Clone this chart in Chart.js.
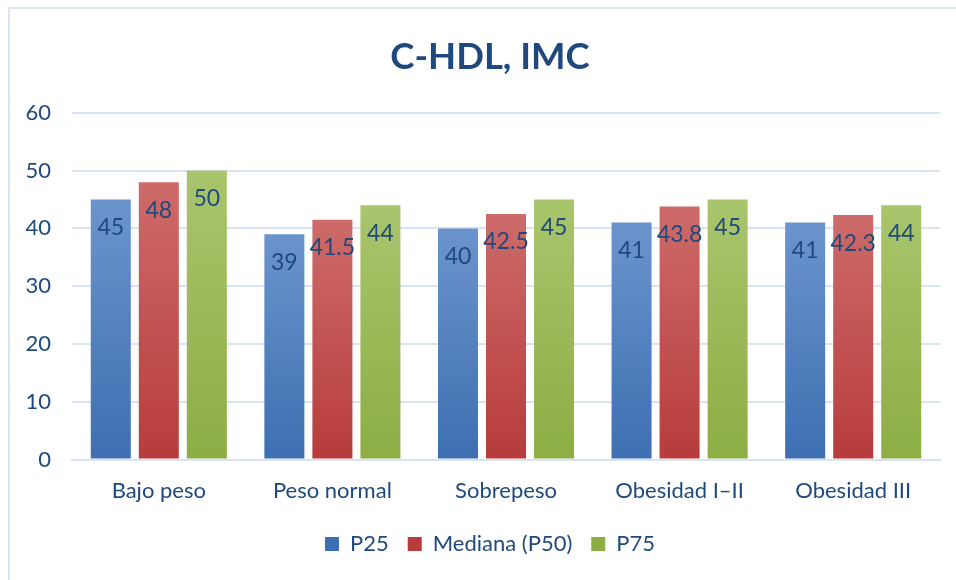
<!DOCTYPE html>
<html>
<head>
<meta charset="utf-8">
<script src="https://cdn.jsdelivr.net/npm/chart.js@4.4.1/dist/chart.umd.min.js"></script>
<style>
  html, body { margin: 0; padding: 0; background: #ffffff; }
  #wrap { position: relative; width: 956px; height: 580px; overflow: hidden; }
  #frame { position: absolute; left: 8px; top: 7px; width: 1000px; height: 700px;
           border: 2px solid #dae3f3; box-sizing: border-box; pointer-events: none; }
  canvas { position: absolute; left: 0; top: 0; }
</style>
</head>
<body>
<div id="wrap">
  <canvas id="c" width="956" height="580"></canvas>
  <div id="frame"></div>
</div>
<script>
// Categorías de IMC y percentiles de C-HDL
const categories = ['Bajo peso', 'Peso normal', 'Sobrepeso', 'Obesidad I–II', 'Obesidad III'];
const p25 = [45, 39, 40, 41, 41];
const p50 = [48, 41.5, 42.5, 43.8, 42.3];
const p75 = [50, 44, 45, 45, 44];
const seriesNames = ['P25', 'Mediana (P50)', 'P75'];
const yTicks = [0, 10, 20, 30, 40, 50, 60];

const TEXT = '#1f497d';
const GRID = '#d9e3f2';
const FONT = 'Lato, "Open Sans", sans-serif';

// colores de cada serie: [arriba, abajo]
const shades = [
  ['#6b94cd', '#3d6fb1'],
  ['#cd6b6a', '#b73c3b'],
  ['#a9c56d', '#8dad44']
];

function barGradient(idx) {
  return (ctx) => {
    const chart = ctx.chart;
    const ys = chart.scales && chart.scales.y;
    if (!chart.chartArea || !ys || ctx.type !== 'data') return shades[idx][1];
    const top = ys.getPixelForValue(ctx.raw);
    const bottom = ys.getPixelForValue(0);
    const g = chart.ctx.createLinearGradient(0, top, 0, bottom);
    g.addColorStop(0, shades[idx][0]);
    g.addColorStop(1, shades[idx][1]);
    return g;
  };
}

// Etiquetas de valor dentro del extremo superior de cada barra
const valueLabels = {
  id: 'valueLabels',
  afterDatasetsDraw(chart) {
    const ctx = chart.ctx;
    ctx.save();
    ctx.font = '23px ' + FONT;
    ctx.fillStyle = TEXT;
    ctx.textAlign = 'center';
    ctx.textBaseline = 'middle';
    chart.data.datasets.forEach((ds, di) => {
      chart.getDatasetMeta(di).data.forEach((bar, i) => {
        ctx.fillText(String(ds.data[i]), bar.x, bar.y + 28);
      });
    });
    ctx.restore();
  }
};

// Título y leyenda centrados sobre el marco, un poco a la derecha del lienzo
const centerBlocks = {
  id: 'centerBlocks',
  afterLayout(chart) {
    [chart.titleBlock, chart.legend].forEach(b => {
      if (b) { b.left += 20; b.right += 20; }
    });
  }
};

const seriesData = [p25, p50, p75];

new Chart(document.getElementById('c'), {
  type: 'bar',
  data: {
    labels: categories,
    datasets: seriesNames.map((name, i) => ({
      label: name,
      data: seriesData[i],
      backgroundColor: barGradient(i),
      borderWidth: 0,
      categoryPercentage: 0.83,
      barPercentage: 0.833
    }))
  },
  options: {
    responsive: false,
    animation: false,
    events: [],
    layout: { padding: { left: 0, right: 16, top: 0, bottom: 15 } },
    plugins: {
      title: {
        display: true,
        text: 'C-HDL, IMC',
        color: TEXT,
        font: { family: FONT, size: 36.5, weight: 'bold' },
        padding: { top: 35, bottom: 34 }
      },
      legend: {
        position: 'bottom',
        labels: {
          color: TEXT,
          font: { family: FONT, size: 22 },
          boxWidth: 14,
          boxHeight: 14,
          padding: 19,
          generateLabels(chart) {
            return chart.data.datasets.map((ds, i) => ({
              text: ds.label,
              fillStyle: shades[i][1],
              strokeStyle: shades[i][1],
              lineWidth: 0,
              hidden: false,
              datasetIndex: i,
              fontColor: TEXT
            }));
          }
        }
      },
      tooltip: { enabled: false }
    },
    scales: {
      x: {
        grid: { display: false },
        border: { display: true, color: GRID, width: 2 },
        ticks: { color: TEXT, font: { family: FONT, size: 22 }, padding: 10 }
      },
      y: {
        min: 0,
        max: 60,
        afterBuildTicks(scale) { scale.ticks = yTicks.map(v => ({ value: v })); },
        afterFit(scale) { scale.width = 72; },
        grid: { color: GRID, lineWidth: 2, drawTicks: false },
        border: { display: false },
        ticks: { color: TEXT, font: { family: FONT, size: 22 }, padding: 21 }
      }
    }
  },
  plugins: [valueLabels, centerBlocks]
});
</script>
</body>
</html>
